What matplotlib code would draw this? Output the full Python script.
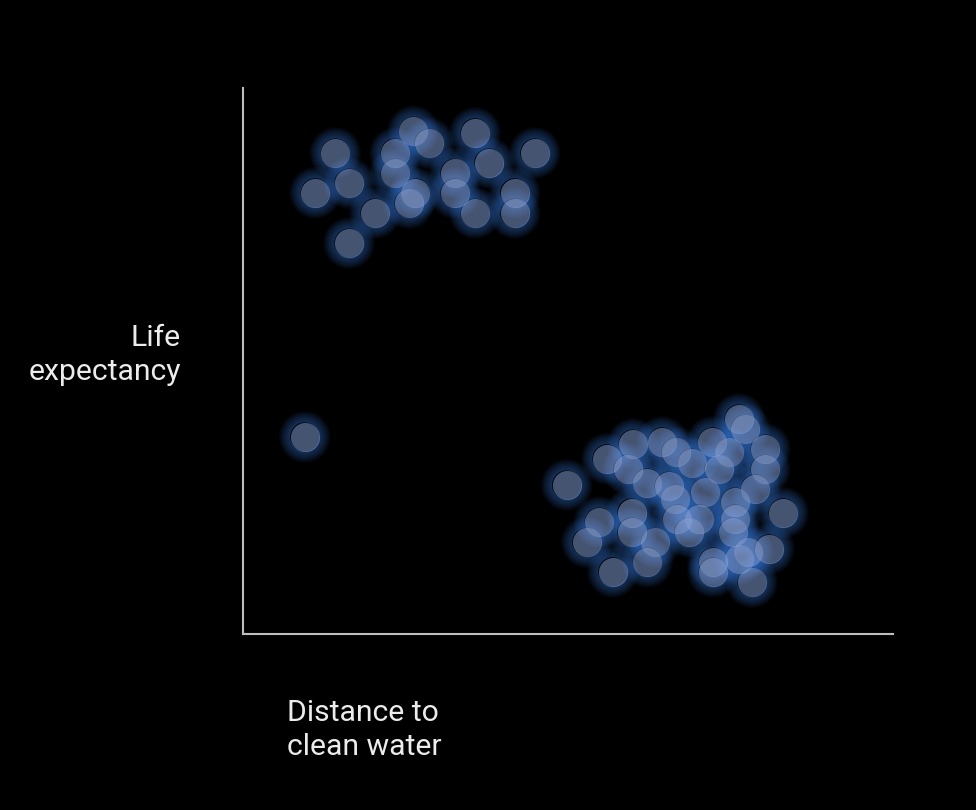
"""
Scatter of life expectancy vs distance to clean water,
glowing blue dots on a black background.
"""

import matplotlib
matplotlib.use('Agg')
import matplotlib.pyplot as plt

# data (x: distance to clean water, y: life expectancy, 0-100 scale)
top_x = [14.2, 11.1, 16.3, 20.3, 16.3, 26.2, 28.6, 23.4, 23.4, 26.5,
         25.5, 35.7, 37.8, 32.6, 32.6, 35.7, 44.9, 41.8, 41.8]
top_y = [88.1, 80.8, 82.6, 77.1, 71.6, 92.1, 89.9, 88.1, 84.4, 80.8,
         78.9, 91.8, 86.3, 84.4, 80.8, 77.1, 88.1, 80.8, 77.1]

lone_x = [9.5]
lone_y = [36.1]

bottom_x = [49.8, 56.0, 60.0, 59.2, 64.5, 66.6, 62.2, 69.1, 72.2, 74.8,
            76.3, 77.2, 80.3, 80.3, 73.2, 65.5, 66.5, 71.1, 78.8, 75.7,
            83.1, 54.8, 59.8, 59.8, 52.9, 63.4, 66.8, 70.2, 68.6, 75.4,
            75.7, 62.2, 56.9, 72.3, 72.3, 76.3, 77.7, 80.9, 78.3]
bottom_y = [27.3, 32.1, 34.8, 30.2, 35.2, 33.3, 27.7, 31.3, 35.2, 33.3,
            39.4, 37.5, 33.9, 30.2, 30.2, 27.1, 24.7, 26.0, 26.6, 24.2,
            22.2, 20.5, 22.2, 18.7, 16.8, 16.8, 21.1, 21.1, 18.7, 18.7,
            21.1, 13.2, 11.4, 13.2, 11.4, 13.7, 15.0, 15.6, 9.5]

X_LABEL = 'Distance to\nclean water'
Y_LABEL = 'Life\nexpectancy'

# style
DOT_SIZE = 21          # marker diameter in points
DOT_COLOR = '#92b0ee'
GLOW_COLOR = '#3a7ee0'
TEXT_COLOR = '#ececec'
AXIS_COLOR = '#bdbdbd'

plt.rcParams['font.family'] = ['Roboto', 'DejaVu Sans']

xs = top_x + lone_x + bottom_x
ys = top_y + lone_y + bottom_y

fig = plt.figure(figsize=(9.76, 8.10), dpi=100, facecolor='black')
ax = fig.add_axes([243 / 976, (810 - 634) / 810, 650 / 976, 546 / 810])
ax.set_facecolor('black')

# glow: rings outside each dot, wider ones fainter
for lw in [1, 2, 3, 4, 5, 6, 7, 8]:
    ax.scatter(xs, ys, s=(DOT_SIZE + lw) ** 2, facecolors='none',
               edgecolors=GLOW_COLOR, linewidths=lw, alpha=0.06, zorder=2)

ax.scatter(xs, ys, s=DOT_SIZE ** 2, color=DOT_COLOR, alpha=0.48,
           linewidths=0, zorder=3)

ax.set_xlim(0, 100)
ax.set_ylim(0, 100)
ax.set_xticks([])
ax.set_yticks([])
for side in ['top', 'right']:
    ax.spines[side].set_visible(False)
for side in ['left', 'bottom']:
    ax.spines[side].set_color(AXIS_COLOR)
    ax.spines[side].set_linewidth(1.5)

fig.text(181 / 976, 1 - 355 / 810, Y_LABEL, color=TEXT_COLOR, fontsize=21.7,
         ha='right', va='center', multialignment='right', linespacing=1.3)
fig.text(287 / 976, 1 - 730 / 810, X_LABEL, color=TEXT_COLOR, fontsize=21.7,
         ha='left', va='center', linespacing=1.3)

fig.savefig('out.png', facecolor='black')
